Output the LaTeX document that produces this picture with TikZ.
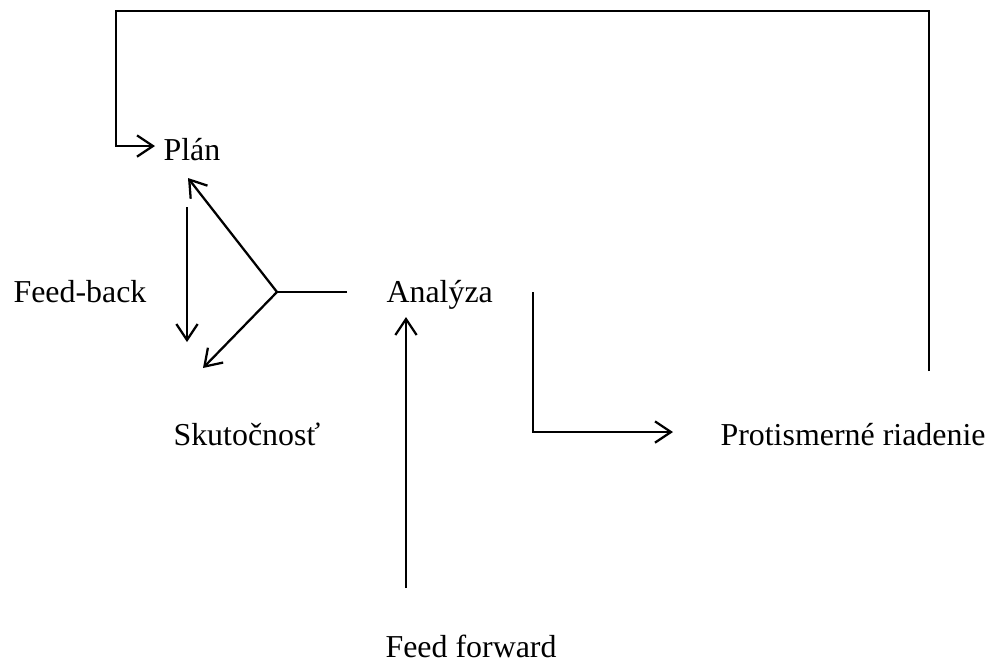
\documentclass[tikz,border=0pt]{standalone}
\usepackage{fontspec}
\setmainfont{Liberation Serif}
\usetikzlibrary{arrows.meta}

\begin{document}
\begin{tikzpicture}[
    x=0.376pt, y=-0.376pt,
    label/.style={anchor=base west, inner sep=0pt, font=\fontsize{12}{14}\selectfont},
    flow/.style={-{Straight Barb[length=6pt, width=8pt]}, line width=0.85pt},
    plain/.style={line width=0.85pt}
]
\useasboundingbox (0,0) rectangle (993,662);

% Labels
\node[label] (plan) at (163,160) {Plán};
\node[label] (feedback) at (13,302) {Feed-back};
\node[label] (analyza) at (386,302) {Analýza};
\node[label] (skut) at (173,445) {Skutočnosť};
\node[label] (protism) at (720,445) {Protismerné riadenie};
\node[label] (feedfwd) at (385,657) {Feed forward};

% Points
\coordinate (junc) at (277,292);
\coordinate (jright) at (347,292);
\coordinate (jup) at (188,178);
\coordinate (jdown) at (203,368);
\coordinate (fbtop) at (187,207);
\coordinate (fbbot) at (187,342);
\coordinate (ffbot) at (406,588);
\coordinate (fftop) at (406,317);
\coordinate (brtop) at (533,292);
\coordinate (brend) at (673,432);
\coordinate (loopbot) at (929,371);
\coordinate (looptop) at (116,11);
\coordinate (plantip) at (155,146);

% Feed-back fork
\draw[plain] (jright) -- (junc);
\draw[flow] (junc) -- (jup);
\draw[flow] (junc) -- (jdown);
\draw[flow] (fbtop) -- (fbbot);

% Feed forward
\draw[flow] (ffbot) -- (fftop);

% Counter-directional control
\draw[flow] (brtop) |- (brend);
\draw[flow] (loopbot) |- (looptop) |- (plantip);
\end{tikzpicture}
\end{document}
